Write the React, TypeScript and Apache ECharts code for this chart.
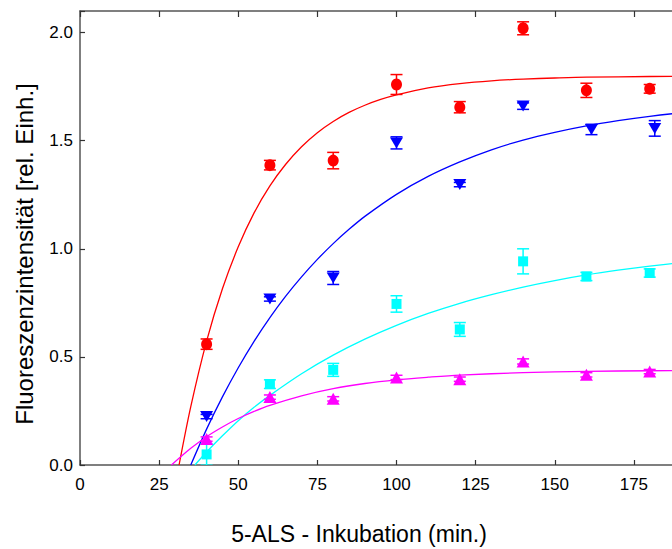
import React, { useEffect, useRef } from "react";
import * as echarts from "echarts";

// ---- measured points: [x, value, error] ----
const redX = [40, 60, 80, 100, 120, 140, 160, 180];
const redY = [0.559, 1.387, 1.408, 1.76, 1.655, 2.02, 1.733, 1.74];
const redErr = [0.024, 0.022, 0.038, 0.046, 0.026, 0.03, 0.033, 0.02];

const blueX = [40, 60, 80, 100, 120, 140, 161.6, 181.6];
const blueY = [0.224, 0.768, 0.865, 1.49, 1.297, 1.66, 1.552, 1.557];
const blueErr = [0.01, 0.01, 0.03, 0.028, 0.01, 0.015, 0.024, 0.036];

const cyanX = [40, 60, 80, 100, 120, 140, 160, 180];
const cyanY = [0.049, 0.374, 0.44, 0.745, 0.627, 0.942, 0.872, 0.888];
const cyanErr = [0.05, 0.02, 0.03, 0.038, 0.032, 0.058, 0.019, 0.019];

const magX = [40, 60, 80, 100, 120, 140, 160, 180];
const magY = [0.12, 0.314, 0.306, 0.405, 0.397, 0.479, 0.417, 0.432];
const magErr = [0.01, 0.01, 0.01, 0.01, 0.01, 0.012, 0.01, 0.01];

// ---- fitted curves ----
const redCurveX = [31.3, 35, 40, 45, 50, 55, 60, 65, 70, 75, 80, 85, 90, 95, 100, 110, 120, 130, 140, 150, 160, 180, 200];
const redCurveY = [0, 0.27, 0.573, 0.815, 1.009, 1.166, 1.291, 1.391, 1.472, 1.537, 1.589, 1.631, 1.664, 1.691, 1.712, 1.744, 1.764, 1.777, 1.785, 1.79, 1.794, 1.797, 1.799];

const blueCurveX = [35, 40, 45, 50, 55, 60, 65, 70, 75, 80, 85, 90, 100, 110, 120, 130, 140, 150, 160, 170, 180, 190, 200];
const blueCurveY = [0, 0.166, 0.315, 0.45, 0.572, 0.682, 0.781, 0.87, 0.951, 1.024, 1.09, 1.15, 1.252, 1.335, 1.402, 1.458, 1.503, 1.539, 1.569, 1.593, 1.613, 1.629, 1.642];

const cyanCurveX = [36.3, 40, 45, 50, 55, 60, 70, 80, 90, 100, 110, 120, 130, 140, 150, 160, 170, 180, 190, 200];
const cyanCurveY = [0, 0.06, 0.135, 0.205, 0.267, 0.322, 0.422, 0.508, 0.582, 0.646, 0.701, 0.748, 0.788, 0.823, 0.853, 0.879, 0.901, 0.92, 0.936, 0.95];

const magCurveX = [28.9, 35, 40, 45, 50, 55, 60, 70, 80, 90, 100, 110, 120, 140, 160, 180, 200];
const magCurveY = [0, 0.077, 0.131, 0.176, 0.215, 0.248, 0.276, 0.32, 0.353, 0.377, 0.394, 0.406, 0.416, 0.427, 0.433, 0.436, 0.438];

const xTicks = [0, 25, 50, 75, 100, 125, 150, 175, 200];
const xLabelled = [0, 25, 50, 75, 100, 125, 150, 175];
const yTicks = [0, 0.5, 1.0, 1.5, 2.0];

const xTitle = "5-ALS - Inkubation (min.)";
const yTitle = "Fluoreszenzintensität [rel. Einh.]";

const FONT = "'Liberation Sans', Arial, Helvetica, sans-serif";
const AXIS_COLOR = "#555555";

const zip = (xs: number[], ys: number[]) => xs.map((x, i) => [x, ys[i]]);
const zip3 = (xs: number[], ys: number[], es: number[]) => xs.map((x, i) => [x, ys[i], es[i]]);

function errorSeries(name: string, color: string, data: number[][]) {
  return {
    type: "custom",
    name: name + "-err",
    data,
    encode: { x: 0, y: 1 },
    z: 3,
    clip: true,
    renderItem: (_params: any, api: any) => {
      const x = api.value(0);
      const y = api.value(1);
      const e = api.value(2);
      const hi = api.coord([x, y + e]);
      const lo = api.coord([x, y - e]);
      const hw = 6;
      const style = { stroke: color, lineWidth: 1.5 };
      return {
        type: "group",
        children: [
          { type: "line", shape: { x1: hi[0], y1: hi[1], x2: lo[0], y2: lo[1] }, style },
          { type: "line", shape: { x1: hi[0] - hw, y1: hi[1], x2: hi[0] + hw, y2: hi[1] }, style },
          { type: "line", shape: { x1: lo[0] - hw, y1: lo[1], x2: lo[0] + hw, y2: lo[1] }, style },
        ],
      };
    },
  };
}

function curveSeries(name: string, color: string, data: number[][]) {
  return {
    type: "line",
    name: name + "-fit",
    data,
    smooth: 0.3,
    showSymbol: false,
    symbol: "none",
    z: 2,
    lineStyle: { color, width: 1.3 },
  };
}

function pointSeries(name: string, color: string, data: number[][], symbol: string, size: any, rotate = 0) {
  return {
    type: "scatter",
    name,
    data,
    symbol,
    symbolSize: size,
    symbolRotate: rotate,
    z: 4,
    itemStyle: { color, opacity: 1 },
  };
}

export default function App() {
  const ref = useRef<HTMLDivElement>(null);

  useEffect(() => {
    if (!ref.current) return;
    const chart = echarts.init(ref.current, undefined, { renderer: "svg" });
    const axisLine = { show: true, onZero: false, lineStyle: { color: AXIS_COLOR, width: 1.5 } };
    const axisTick = { show: true, inside: true, length: 5, lineStyle: { color: "#333", width: 1.2 } };
    chart.setOption({
      animation: false,
      backgroundColor: "#ffffff",
      grid: { left: 80, top: 11, width: 633, height: 454, containLabel: false },
      xAxis: [
        {
          type: "value",
          min: xTicks[0],
          max: xTicks[xTicks.length - 1],
          interval: 25,
          position: "bottom",
          axisLine,
          axisTick,
          splitLine: { show: false },
          axisLabel: {
            margin: 11,
            fontSize: 17,
            color: "#000",
            fontFamily: FONT,
            formatter: (v: number) => (xLabelled.indexOf(v) >= 0 ? String(v) : ""),
          },
        },
        {
          type: "value",
          min: xTicks[0],
          max: xTicks[xTicks.length - 1],
          interval: 25,
          position: "top",
          axisLine,
          axisTick: { ...axisTick, length: 6 },
          splitLine: { show: false },
          axisLabel: { show: false },
        },
      ],
      yAxis: [
        {
          type: "value",
          min: 0,
          max: 2.1,
          interval: 0.5,
          position: "left",
          axisLine,
          axisTick,
          splitLine: { show: false },
          axisLabel: {
            margin: 7,
            fontSize: 17,
            color: "#000",
            fontFamily: FONT,
            formatter: (v: number) => (yTicks.some((t) => Math.abs(t - v) < 1e-6) ? v.toFixed(1) : ""),
          },
        },
        {
          type: "value",
          min: 0,
          max: 2.1,
          interval: 0.5,
          position: "right",
          axisLine,
          axisTick,
          splitLine: { show: false },
          axisLabel: { show: false },
        },
      ],
      graphic: [
        {
          type: "text",
          x: 359,
          y: 534,
          style: {
            text: xTitle,
            fontSize: 23,
            fontFamily: FONT,
            fill: "#000",
            align: "center",
            verticalAlign: "middle",
          },
        },
        {
          type: "text",
          x: 24,
          y: 254,
          rotation: Math.PI / 2,
          style: {
            text: yTitle,
            fontSize: 24,
            fontFamily: FONT,
            fill: "#000",
            align: "center",
            verticalAlign: "middle",
          },
        },
      ],
      series: [
        curveSeries("red", "#ff0000", zip(redCurveX, redCurveY)),
        curveSeries("blue", "#0000ff", zip(blueCurveX, blueCurveY)),
        curveSeries("cyan", "#00ffff", zip(cyanCurveX, cyanCurveY)),
        curveSeries("magenta", "#ff00ff", zip(magCurveX, magCurveY)),
        errorSeries("red", "#ff0000", zip3(redX, redY, redErr)),
        errorSeries("blue", "#0000ff", zip3(blueX, blueY, blueErr)),
        errorSeries("cyan", "#00ffff", zip3(cyanX, cyanY, cyanErr)),
        errorSeries("magenta", "#ff00ff", zip3(magX, magY, magErr)),
        pointSeries("red", "#ff0000", zip(redX, redY), "circle", [11, 12]),
        pointSeries("blue", "#0000ff", zip(blueX, blueY), "triangle", [13, 11], 180),
        pointSeries("cyan", "#00ffff", zip(cyanX, cyanY), "rect", [10, 10]),
        pointSeries("magenta", "#ff00ff", zip(magX, magY), "triangle", [13, 12]),
      ],
    });
    return () => chart.dispose();
  }, []);

  return (
    <div
      style={{
        position: "fixed",
        left: 0,
        top: 0,
        width: 672,
        height: 549,
        overflow: "hidden",
        background: "#fff",
      }}
    >
      <div ref={ref} style={{ width: 760, height: 549 }} />
    </div>
  );
}
